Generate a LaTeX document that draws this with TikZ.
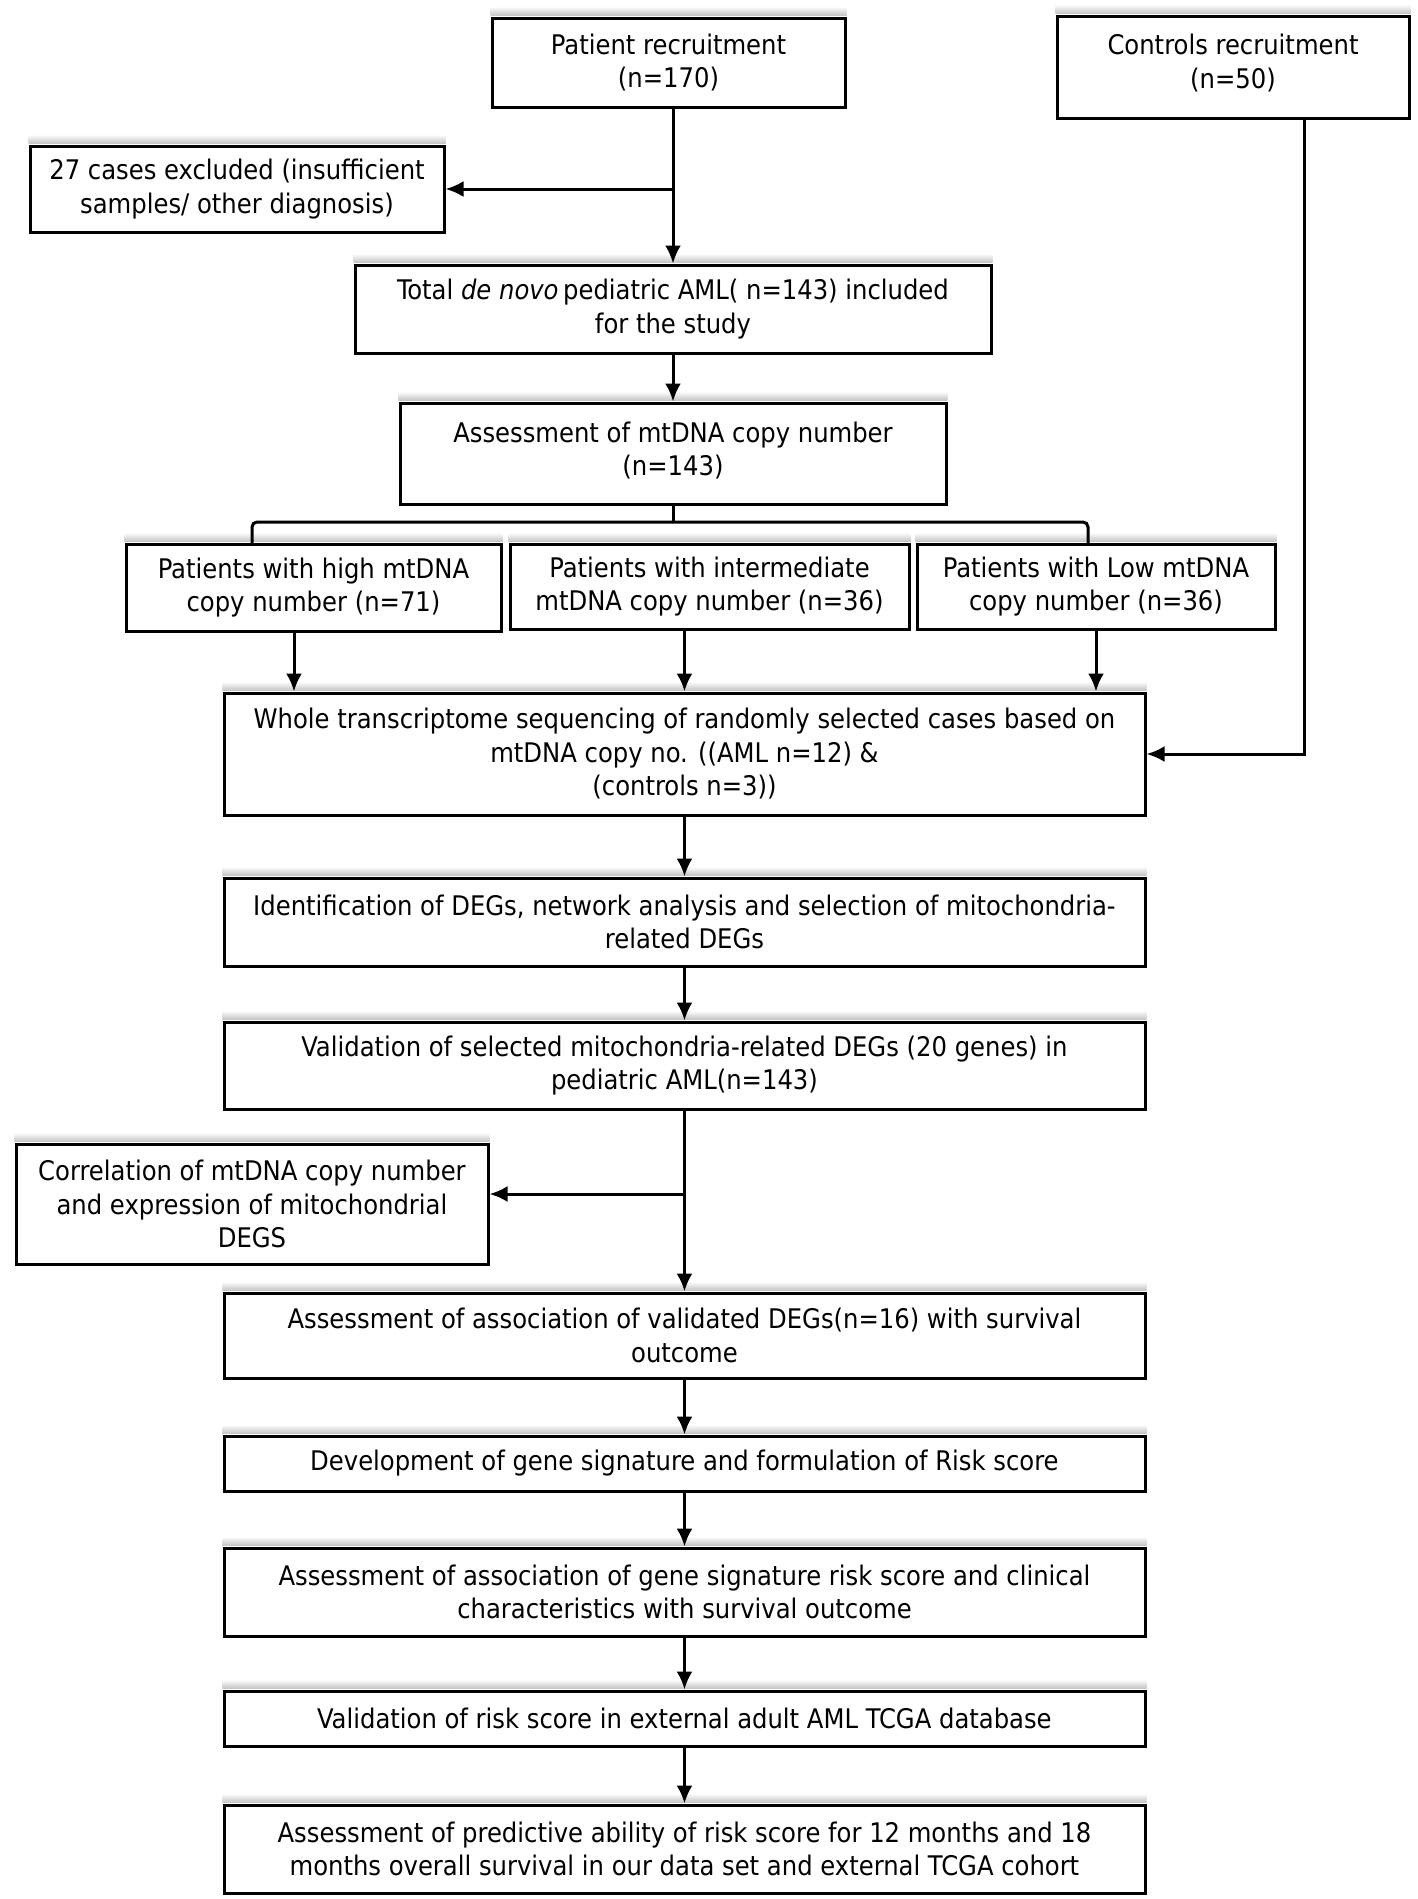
\documentclass[tikz,border=0pt]{standalone}
\usepackage{fontspec}
\setmainfont{DejaVu Sans Condensed}
\usetikzlibrary{arrows.meta}
\begin{document}
\begin{tikzpicture}[x=1pt,y=-1pt,
  fbox/.style={draw=black, line width=3pt, align=center, inner sep=0pt,
    font=\fontsize{27}{33.5}\selectfont, fill=white},
  arr/.style={line width=3pt, -{Latex[length=18pt,width=16pt]}},
  ln/.style={line width=3pt}]
\useasboundingbox (0,0) rectangle (1417,1899);
\fill[white] (0,0) rectangle (1417,1899);

\node[fbox, minimum width=353pt, minimum height=89pt] (pat) at (668.5,62.5) {Patient recruitment\\(n=170)};
\node[fbox, minimum width=352pt, minimum height=102pt] (ctl) at (1233,67) {Controls recruitment\\(n=50)\\[-22pt]};
\node[fbox, minimum width=414pt, minimum height=86pt] (exc) at (237,189) {27 cases excluded (insufficient\\samples/ other diagnosis)};
\node[fbox, minimum width=636pt, minimum height=88pt] (tot) at (673,309) {Total \textit{de novo}\,pediatric AML(\ n=143) included\\for the study};
\node[fbox, minimum width=546pt, minimum height=101pt] (ass) at (673,453.5) {Assessment of mtDNA copy number\\(n=143)\\[-24pt]};
\node[fbox, minimum width=375pt, minimum height=87pt] (high) at (313.5,587.5) {Patients with high mtDNA\\copy number (n=71)};
\node[fbox, minimum width=399pt, minimum height=85pt] (inter) at (709.5,586.5) {Patients with intermediate\\mtDNA copy number (n=36)};
\node[fbox, minimum width=358pt, minimum height=85pt] (low) at (1096,586.5) {Patients with Low mtDNA\\copy number (n=36)};
\node[fbox, minimum width=921pt, minimum height=122pt] (whole) at (684.5,754) {Whole transcriptome sequencing of randomly selected cases based on\\mtDNA copy no. ((AML n=12) \&\\(controls n=3))};
\node[fbox, minimum width=921pt, minimum height=88pt] (ident) at (684.5,922) {Identification of DEGs, network analysis and selection of mitochondria-\\related DEGs};
\node[fbox, minimum width=921pt, minimum height=87pt] (valid) at (684.5,1065.5) {Validation of selected mitochondria-related DEGs (20 genes) in\\pediatric AML(n=143)};
\node[fbox, minimum width=472pt, minimum height=120pt] (corr) at (252,1204) {Correlation of mtDNA copy number\\and expression of mitochondrial\\DEGS};
\node[fbox, minimum width=921pt, minimum height=85pt] (assoc) at (684.5,1335.5) {Assessment of association of validated DEGs(n=16) with survival\\outcome};
\node[fbox, minimum width=921pt, minimum height=55pt] (dev) at (684.5,1463.5) {Development of gene signature and formulation of Risk score};
\node[fbox, minimum width=921pt, minimum height=88pt] (gsig) at (684.5,1592) {Assessment of association of gene signature risk score and clinical\\characteristics with survival outcome};
\node[fbox, minimum width=921pt, minimum height=55pt] (vrisk) at (684.5,1718.5) {Validation of risk score in external adult AML TCGA database};
\node[fbox, minimum width=921pt, minimum height=88pt] (pred) at (684.5,1849) {Assessment of predictive ability of risk score for 12 months and 18\\months overall survival in our data set and external TCGA cohort};

% soft shadows above the top edges
\foreach \n in {pat,ctl,exc,tot,ass,high,inter,low,whole,ident,valid,corr,assoc,dev,gsig,vrisk,pred}{
  \shade[top color=white, bottom color=black!22] ([yshift=10pt]\n.north west) rectangle ([yshift=1.5pt]\n.north east);
}

% connectors
\coordinate (ex) at (673,189);
\draw[arr] (tot.north |- pat.south) -- (tot.north);
\draw[arr] (ex) -- (exc.east);
\draw[arr] (tot.south) -- (ass.north);

\coordinate (bm) at (673,522);
\coordinate (bl) at (252,544);
\coordinate (br) at (1088,544);
\draw[ln] (ass.south) -- (bm);
\draw[ln, rounded corners=5pt] (bl) |- (bm) -| (br);

\draw[arr] ([xshift=-19.5pt]high.south) -- ([xshift=-19.5pt]high.south |- whole.north);
\draw[arr] (whole.north |- inter.south) -- (whole.north);
\draw[arr] (low.south) -- (low.south |- whole.north);
\draw[arr] ([xshift=71pt]ctl.south) |- (whole.east);

\draw[arr] (whole.south) -- (ident.north);
\draw[arr] (ident.south) -- (valid.north);
\draw[arr] (valid.south) -- (assoc.north);
\coordinate (cb) at (684.5,1194);
\draw[arr] (cb) -- (cb -| corr.east);
\draw[arr] (assoc.south) -- (dev.north);
\draw[arr] (dev.south) -- (gsig.north);
\draw[arr] (gsig.south) -- (vrisk.north);
\draw[arr] (vrisk.south) -- (pred.north);
\end{tikzpicture}
\end{document}
